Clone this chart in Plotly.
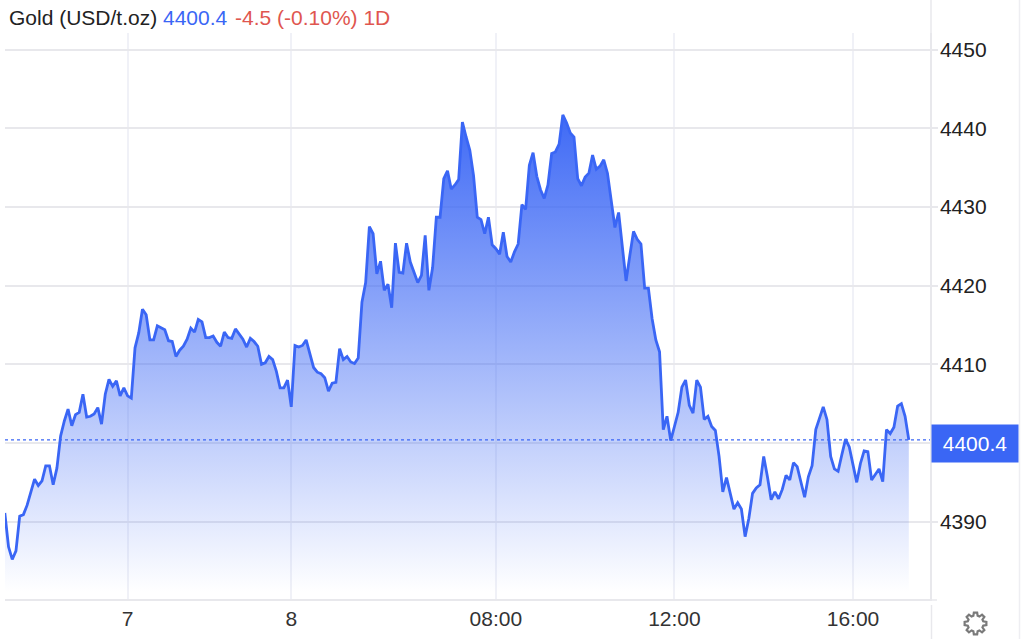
import math
import plotly.graph_objects as go

# gold 1D, one value per chart bar
prices = [
    4391.1, 4386.8, 4385.2, 4386.3, 4390.7, 4390.9, 4392.1, 4393.6, 4395.4, 4394.6,
    4395.2, 4397.1, 4397.1, 4394.7, 4396.8, 4400.9, 4402.8, 4404.3, 4402.2, 4403.6,
    4403.9, 4406.2, 4403.3, 4403.4, 4403.7, 4404.5, 4402.4, 4406.2, 4408.1, 4407.2,
    4407.9, 4406.0, 4407.0, 4406.0, 4405.7, 4412.1, 4414.0, 4417.0, 4416.3, 4413.1,
    4413.1, 4414.9, 4414.6, 4414.4, 4413.0, 4412.9, 4411.0, 4411.8, 4412.3, 4413.2,
    4414.6, 4414.1, 4415.7, 4415.4, 4413.4, 4413.4, 4413.6, 4412.8, 4412.3, 4414.1,
    4413.4, 4413.3, 4414.5, 4413.8, 4413.2, 4412.2, 4413.3, 4412.9, 4412.3, 4410.0,
    4410.2, 4411.0, 4410.6, 4409.1, 4407.0, 4407.0, 4408.0, 4404.6, 4412.4, 4412.2,
    4412.4, 4413.1, 4411.4, 4409.6, 4409.0, 4408.8, 4408.3, 4406.6, 4407.6, 4407.7,
    4412.0, 4410.6, 4411.0, 4410.3, 4410.1, 4410.8, 4417.9, 4420.4, 4427.5, 4426.6,
    4421.5, 4423.1, 4419.4, 4420.2, 4417.2, 4425.4, 4421.7, 4421.6, 4425.4, 4423.0,
    4421.7, 4420.4, 4421.3, 4426.4, 4419.4, 4422.3, 4428.7, 4428.7, 4433.6, 4434.6,
    4432.3, 4432.8, 4433.5, 4440.8, 4438.9, 4437.2, 4434.0, 4428.7, 4428.4, 4426.6,
    4428.7, 4425.2, 4424.7, 4424.0, 4426.8, 4423.7, 4423.0, 4424.3, 4425.3, 4430.3,
    4429.7, 4435.3, 4436.9, 4433.9, 4432.2, 4431.1, 4432.8, 4436.8, 4437.0, 4438.0,
    4441.7, 4440.7, 4439.4, 4438.9, 4433.6, 4432.7, 4433.8, 4434.3, 4436.6, 4434.8,
    4435.2, 4436.0, 4434.3, 4431.0, 4427.4, 4429.3, 4425.1, 4420.6, 4423.8, 4426.9,
    4425.9, 4425.3, 4419.7, 4419.7, 4415.8, 4413.1, 4411.6, 4401.7, 4403.4, 4400.3,
    4402.1, 4403.9, 4407.1, 4408.0, 4404.8, 4403.8, 4408.0, 4407.1, 4403.0, 4403.4,
    4402.1, 4401.6, 4398.3, 4393.8, 4395.6, 4393.5, 4391.6, 4392.4, 4391.6, 4388.1,
    4390.4, 4393.6, 4394.3, 4394.7, 4398.3, 4395.7, 4392.8, 4393.8, 4392.9, 4394.1,
    4395.9, 4395.3, 4397.5, 4397.0, 4394.9, 4393.1, 4395.7, 4397.1, 4401.7, 4403.1,
    4404.6, 4403.0, 4398.3, 4396.7, 4396.4, 4398.5, 4400.5, 4399.5, 4397.2, 4395.0,
    4397.4, 4399.0, 4398.9, 4395.3, 4396.0, 4396.7, 4395.1, 4401.7, 4401.2, 4402.0,
    4404.7, 4405.0, 4403.4, 4400.4,
]
bars = list(range(len(prices)))

x_tick_bars = [33, 77, 132, 180, 228]
x_tick_labels = ["7", "8", "08:00", "12:00", "16:00"]
y_ticks = [4390, 4400, 4410, 4420, 4430, 4440, 4450]
# 4400 sits under the price tag, only its grid line shows
y_tick_labels = ["4390", "", "4410", "4420", "4430", "4440", "4450"]

WIDTH, HEIGHT = 1024, 639
LEFT, RIGHT, TOP, BOTTOM = 5, 930, 33, 599

BLUE = "#3a66f5"
RED = "#e0564f"
GRID = "#e8e8ec"
VGRID = "#f0f1f7"
FONT = "Liberation Sans"


def px(x):
    return (x - LEFT) / (RIGHT - LEFT)


def py(y):
    return (BOTTOM - y) / (BOTTOM - TOP)


def header(x, text, color):
    return dict(xref="paper", yref="paper", x=px(x), y=py(17), xanchor="left", yanchor="middle",
                showarrow=False, text=text, font=dict(size=21, color=color))


fig = go.Figure()
fig.add_trace(go.Scatter(
    x=bars,
    y=prices,
    mode="lines",
    line=dict(color=BLUE, width=2.8),
    fill="tozeroy",
    fillgradient=dict(
        type="vertical",
        colorscale=[[0, "rgba(58,102,245,0)"], [1, "rgba(58,102,245,0.98)"]],
        start=4381,
        stop=4442,
    ),
    hoverinfo="skip",
))

# gear outline for the settings button
gear = []
for i in range(8):
    a = i * math.pi / 4
    for da, r in [(-0.27, 8), (-0.15, 11), (0.15, 11), (0.27, 8)]:
        gear.append((r * math.cos(a + da), r * math.sin(a + da)))
gear_path = "M" + " L".join(f"{x:.2f},{y:.2f}" for x, y in gear) + " Z"
hole = 3.6
gear_path += f" M{-hole},0 A{hole},{hole} 0 1,0 {hole},0 A{hole},{hole} 0 1,0 {-hole},0 Z"

fig.update_layout(
    width=WIDTH,
    height=HEIGHT,
    margin=dict(l=LEFT, r=WIDTH - RIGHT, t=TOP, b=HEIGHT - BOTTOM, pad=0),
    paper_bgcolor="white",
    plot_bgcolor="white",
    showlegend=False,
    font=dict(family=FONT, size=21, color="#222222"),
    xaxis=dict(
        range=[0.05, 248.7],
        tickmode="array",
        tickvals=x_tick_bars,
        ticktext=x_tick_labels,
        showgrid=True,
        gridcolor=VGRID,
        gridwidth=1.5,
        zeroline=False,
        showline=True,
        linecolor=GRID,
        linewidth=1.5,
        ticks="",
        tickfont=dict(size=21, color="#333333"),
    ),
    yaxis=dict(
        range=[4380.17, 4452.12],
        side="right",
        tickmode="array",
        tickvals=y_ticks,
        ticktext=y_tick_labels,
        showgrid=True,
        gridcolor=GRID,
        gridwidth=1.5,
        zeroline=False,
        showline=True,
        linecolor=GRID,
        linewidth=1.5,
        ticks="outside",
        ticklen=6,
        tickcolor=GRID,
        tickwidth=1.5,
        ticklabelstandoff=-2,
        tickfont=dict(size=21, color="#222222"),
    ),
    shapes=[
        # last price line
        dict(type="line", xref="paper", yref="y", x0=0, x1=1, y0=prices[-1], y1=prices[-1],
             line=dict(color=BLUE, width=1.3, dash="dot"), layer="above"),
        # axis line running up past the header, box on the right, corner below the axis
        dict(type="line", xref="paper", yref="paper", x0=px(931), x1=px(931), y0=py(TOP), y1=py(0),
             line=dict(color=GRID, width=1.5)),
        dict(type="line", xref="paper", yref="paper", x0=px(1019.5), x1=px(1019.5), y0=py(0), y1=py(HEIGHT),
             line=dict(color="#eeeef2", width=1.5)),
        dict(type="line", xref="paper", yref="paper", x0=px(931.5), x1=px(931.5), y0=py(605), y1=py(HEIGHT),
             line=dict(color=GRID, width=1.5)),
        dict(type="line", xref="paper", yref="paper", x0=px(930), x1=px(937), y0=py(600), y1=py(600),
             line=dict(color=GRID, width=1.5)),
        # settings gear
        dict(type="path", xref="paper", yref="paper", xsizemode="pixel", ysizemode="pixel",
             xanchor=px(975.5), yanchor=py(623.5), path=gear_path,
             line=dict(color="#7a7a7a", width=2.2)),
    ],
    annotations=[
        header(6.5, "Gold (USD/t.oz)", "#222222"),
        header(160.5, "4400.4", BLUE),
        header(232.5, "-4.5 (-0.10%) 1D", RED),
        dict(
            xref="paper", yref="paper", x=px(931), y=py(424), xanchor="left", yanchor="top",
            width=86, height=37, showarrow=False, bgcolor=BLUE, borderpad=0,
            text="4400.4", font=dict(size=21, color="white"),
        ),
    ],
)

fig.write_html("out.html", config=dict(displayModeBar=False),
               post_script="document.body.style.margin='0';document.body.style.overflow='hidden';")
